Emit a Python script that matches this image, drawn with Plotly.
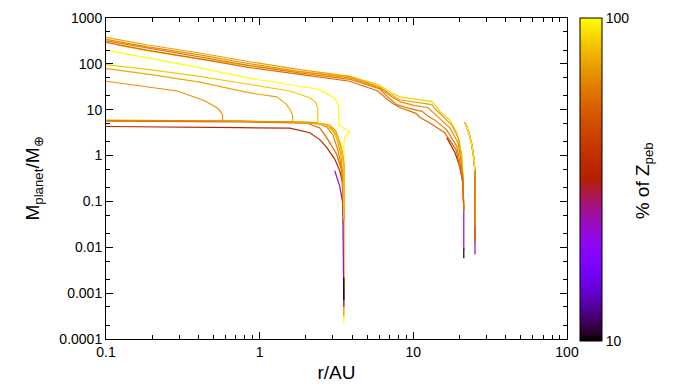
import math
import plotly.graph_objects as go

# ---------------------------------------------------------------------------
# Planet formation tracks: orbital distance r [AU], planet mass [M_earth],
# and the share of the pebble metallicity Z_peb [%] used in each run.
# Each run is drawn as one line in its own colour.
# ---------------------------------------------------------------------------

# runs seeded at ~3.5 AU
r_in_hook = [3.53, 3.53, 3.58, 3.86, 3.27, 3.27, 3.13, 2.86, 2.35, 1.41, 0.861, 0.407, 0.192, 0.1]
m_in_hook = [0.00023, 1.75, 2.58, 3.30, 4.64, 12.3, 16.5, 21.1, 28.3, 37.9, 48.4, 82.8, 135, 199.5]
z_in_hook = 100

r_in_flat_a = [3.53, 3.53, 3.47, 3.32, 3.13, 2.86, 2.12, 0.741, 0.1]
m_in_flat_a = [0.00031, 0.66, 1.07, 1.93, 3.46, 4.64, 5.37, 5.64, 5.93]
z_in_flat_a = 70

r_in_stall = [3.53, 3.47, 3.32, 3.08]
m_in_stall = [0.0005, 0.093, 0.214, 0.467]
z_in_stall = 22

r_in_seed = [3.53, 3.53]
m_in_seed = [0.0007, 0.00217]
z_in_seed = 10

r_in_low = [3.53, 3.47, 3.32, 3.08, 2.73, 2.46, 2.12, 1.57, 0.741, 0.1]
m_in_low = [0.041, 0.248, 0.467, 0.84, 1.51, 2.23, 3.14, 3.95, 4.07, 4.31]
z_in_low = 33

r_in_flat_b = [3.53, 3.47, 3.42, 3.17, 2.73, 2.46, 2.02, 0.741, 0.1]
m_in_flat_b = [0.041, 0.248, 0.467, 1.07, 2.46, 4.01, 5.12, 5.45, 5.64]
z_in_flat_b = 56

r_in_flat_c = [3.53, 3.53, 3.42, 3.22, 2.99, 2.73, 2.35, 0.741, 0.1]
m_in_flat_c = [0.041, 0.194, 0.515, 1.37, 2.85, 4.21, 5.12, 5.64, 5.78]
z_in_flat_c = 63

r_in_gas_057 = [3.53, 3.47, 3.37, 3.17, 2.95, 2.65, 1.82, 0.741, 0.574, 0.574, 0.557, 0.525, 0.438, 0.292, 0.1]
m_in_gas_057 = [0.041, 0.40, 1.07, 2.46, 3.82, 4.87, 5.37, 5.56, 5.64, 7.56, 9.19, 11.2, 15.7, 25.6, 41.8]
z_in_gas_057 = 68

r_in_gas_164 = [3.53, 3.53, 3.42, 3.22, 2.99, 2.65, 2.12, 1.64, 1.64, 1.59, 1.48, 1.29, 0.861, 0.407, 0.192, 0.1]
m_in_gas_164 = [0.041, 0.66, 1.37, 2.58, 3.82, 4.64, 5.12, 5.37, 7.56, 9.65, 13.6, 19.1, 23.3, 39.8, 58.8, 78.9]
z_in_gas_164 = 74

r_in_gas_239 = [3.53, 3.53, 3.42, 3.22, 2.99, 2.69, 2.39, 2.39, 2.32, 2.12, 1.57, 0.861, 0.407, 0.192, 0.1]
m_in_gas_239 = [0.041, 0.515, 1.18, 2.23, 3.46, 4.64, 5.12, 10.6, 14.3, 18.2, 25.6, 36.1, 53.4, 75.1, 95.9]
z_in_gas_239 = 84

# runs seeded at ~21 AU
r_out_seed = [21.3, 21.3]
m_out_seed = [0.0058, 0.00985]
z_out_seed = 10

r_out_slow = [21.3, 21.3]
m_out_slow = [0.0089, 0.063]
z_out_slow = 23

r_out_stall = [21.3, 21.0, 20.1, 18.6, 16.5]
m_out_stall = [0.0695, 0.248, 0.57, 1.18, 2.46]
z_out_stall = 32

r_out_1 = [21.3, 21.0, 20.7, 19.2, 17.3, 14.9, 14.2, 13.2, 11.0, 8.17, 7.03, 6.05, 3.86, 1.82, 0.861, 0.407, 0.192, 0.119]
m_out_1 = [0.063, 0.316, 1.07, 3.14, 5.93, 9.19, 11.7, 15.0, 16.5, 19.1, 24.4, 34.4, 53.4, 68.1, 91.3, 128.5, 190, 254.7]
z_out_1 = 86

r_out_2 = [21.3, 21.0, 20.4, 19.8, 17.8, 15.3, 14.0, 13.2, 11.0, 8.17, 7.03, 6.05, 3.86, 1.82, 0.861, 0.407, 0.192, 0.1]
m_out_2 = [0.063, 0.40, 1.07, 2.23, 4.64, 7.56, 10.1, 12.9, 14.3, 16.5, 22.2, 31.2, 53.4, 75.1, 111, 172.3, 254.7, 376.5]
z_out_2 = 72

r_out_3 = [21.3, 21.0, 20.1, 19.5, 17.3, 14.4, 13.2, 12.4, 10.2, 8.17, 7.24, 6.05, 3.86, 1.82, 0.861, 0.407, 0.192, 0.1]
m_out_3 = [0.063, 0.366, 1.07, 1.93, 4.01, 6.86, 9.19, 11.2, 12.3, 15.0, 19.1, 29.7, 49.6, 68.1, 100.7, 156.3, 231, 341.5]
z_out_3 = 66

r_out_4 = [21.3, 21.0, 19.2, 16.5, 13.8, 12.25, 11.4, 9.49, 7.81, 7.03, 6.05, 3.86, 1.82, 0.861, 0.407, 0.192, 0.1]
m_out_4 = [0.063, 0.316, 1.58, 3.64, 5.93, 7.56, 9.19, 10.6, 12.9, 17.35, 28.3, 46.1, 63.3, 91.3, 141.8, 214.7, 317.3]
z_out_4 = 61

r_out_5 = [21.3, 21.0, 18.9, 16.0, 12.8, 11.0, 10.4, 8.17, 7.35, 6.82, 5.87, 3.86, 1.82, 0.861, 0.407, 0.192, 0.1]
m_out_5 = [0.063, 0.273, 1.37, 3.14, 5.12, 6.86, 8.34, 11.2, 13.6, 16.5, 25.6, 41.8, 58.8, 82.8, 128.5, 194.7, 295]
z_out_5 = 56

# runs seeded at ~25 AU (all end near 21.7 AU)
r_far_a = [25.2, 25.2, 24.8, 24.0, 23.0, 21.65]
m_far_a = [0.0070, 0.40, 0.84, 1.75, 3.14, 5.37]
z_far_a = 22

r_far_b = [25.2, 25.2, 24.8, 24.0, 23.0, 21.65]
m_far_b = [0.0126, 0.40, 0.84, 1.75, 3.14, 5.37]
z_far_b = 45

r_far_c = [25.2, 25.2, 24.8, 24.0, 23.0, 21.65]
m_far_c = [0.0132, 0.40, 0.84, 1.75, 3.14, 5.37]
z_far_c = 58

r_far_d = [25.2, 25.2, 24.8, 24.0, 23.0, 21.65]
m_far_d = [0.030, 0.40, 0.84, 1.75, 3.14, 5.37]
z_far_d = 70

r_far_e = [25.1, 24.8, 24.0, 23.0, 21.65]
m_far_e = [0.467, 0.84, 1.75, 3.14, 5.37]
z_far_e = 95

# axis ticks
x_ticks = [0.1, 1, 10, 100]
x_tick_text = ["0.1", "1", "10", "100"]
y_ticks = [1e-4, 1e-3, 1e-2, 1e-1, 1, 10, 100, 1000]
y_tick_text = ["0.0001", "0.001", "0.01", "0.1", "1", "10", "100", "1000"]
z_label_ticks = [10, 100]
z_label_text = ["10", "100"]
z_minor_ticks = [20, 30, 40, 50, 60, 70, 80, 90]

tracks = [
    (r_in_hook, m_in_hook, z_in_hook),
    (r_in_flat_a, m_in_flat_a, z_in_flat_a),
    (r_in_stall, m_in_stall, z_in_stall),
    (r_in_seed, m_in_seed, z_in_seed),
    (r_in_low, m_in_low, z_in_low),
    (r_in_flat_b, m_in_flat_b, z_in_flat_b),
    (r_in_flat_c, m_in_flat_c, z_in_flat_c),
    (r_in_gas_057, m_in_gas_057, z_in_gas_057),
    (r_in_gas_164, m_in_gas_164, z_in_gas_164),
    (r_in_gas_239, m_in_gas_239, z_in_gas_239),
    (r_out_seed, m_out_seed, z_out_seed),
    (r_out_slow, m_out_slow, z_out_slow),
    (r_out_stall, m_out_stall, z_out_stall),
    (r_out_1, m_out_1, z_out_1),
    (r_out_2, m_out_2, z_out_2),
    (r_out_3, m_out_3, z_out_3),
    (r_out_4, m_out_4, z_out_4),
    (r_out_5, m_out_5, z_out_5),
    (r_far_a, m_far_a, z_far_a),
    (r_far_b, m_far_b, z_far_b),
    (r_far_c, m_far_c, z_far_c),
    (r_far_d, m_far_d, z_far_d),
    (r_far_e, m_far_e, z_far_e),
]


def gnuplot_rgb(f):
    """Classic gnuplot palette (rgbformulae 7,5,15)."""
    f = min(max(f, 0.0), 1.0)
    r = math.sqrt(f)
    g = f ** 3
    b = min(max(math.sin(2 * math.pi * f), 0.0), 1.0)
    return "rgb(%d,%d,%d)" % (round(255 * r), round(255 * g), round(255 * b))


def z_color(z):
    # colour axis is logarithmic from 10 % to 100 %
    return gnuplot_rgb(math.log10(z) - 1.0)


colorscale = [[i / 40, gnuplot_rgb(i / 40)] for i in range(41)]

font_family = "Liberation Sans, Arial, Helvetica, sans-serif"

fig = go.Figure()
for r, m, z in tracks:
    fig.add_trace(go.Scatter(
        x=r, y=m, mode="lines",
        line=dict(color=z_color(z), width=1.2),
        hoverinfo="skip", showlegend=False,
    ))

# colour bar geometry (paper units; plot area spans 0..1)
cb_x0 = 1.028
cb_thick_px = 22
cb_bottom = -0.006
cb_top = 1.0

fig.add_trace(go.Scatter(
    x=[None, None], y=[None, None], mode="markers", showlegend=False,
    hoverinfo="skip",
    marker=dict(
        color=[1, 2], cmin=1, cmax=2, colorscale=colorscale, showscale=True,
        colorbar=dict(
            thickness=cb_thick_px, thicknessmode="pixels",
            len=cb_top - cb_bottom, lenmode="fraction",
            x=cb_x0, xanchor="left", y=cb_bottom, yanchor="bottom",
            xpad=0, ypad=0,
            outlinewidth=1, outlinecolor="black",
            tickmode="array",
            tickvals=[math.log10(v) for v in z_label_ticks],
            ticktext=z_label_text,
            ticks="inside", ticklen=4, tickcolor="black", tickwidth=1,
            tickfont=dict(family=font_family, size=14, color="black"),
        ),
    ),
))

# intermediate (unlabelled) colour-bar ticks on the bar's right edge
plot_w_px = 680 - 106 - 113
cb_right = cb_x0 + cb_thick_px / plot_w_px
tick_w = 4 / plot_w_px
for v in z_minor_ticks:
    yv = cb_bottom + (math.log10(v) - 1.0) * (cb_top - cb_bottom)
    fig.add_shape(type="line", xref="paper", yref="paper",
                  x0=cb_right - tick_w, x1=cb_right, y0=yv, y1=yv,
                  line=dict(color="black", width=1))

# colour-bar title
fig.add_annotation(
    text="% of Z<sub>peb</sub>", xref="paper", yref="paper",
    x=1.169, y=0.494, xanchor="center", yanchor="middle",
    textangle=-90, showarrow=False,
    font=dict(family=font_family, size=19, color="black"),
)

x_minor = [k * 10.0 ** e for e in (-1, 0, 1) for k in range(2, 10)]
y_minor = [k * 10.0 ** e for e in range(-4, 3) for k in (2, 5)]

axis_common = dict(
    type="log", showgrid=False, zeroline=False,
    showline=True, linecolor="black", linewidth=1, mirror="allticks",
    ticks="inside", ticklen=7, tickcolor="black", tickwidth=1,
    tickfont=dict(family=font_family, size=14, color="black"),
)

fig.update_layout(
    width=680, height=389,
    margin=dict(l=106, r=113, t=10, b=49),
    paper_bgcolor="white", plot_bgcolor="white",
    hovermode=False,
    font=dict(family=font_family, color="black"),
    xaxis=dict(
        range=[-1, 2], tickmode="array", tickvals=x_ticks, ticktext=x_tick_text,
        minor=dict(tickmode="array", tickvals=x_minor, ticks="inside",
                   ticklen=4, tickcolor="black", showgrid=False),
        title=dict(text="r/AU", font=dict(family=font_family, size=19), standoff=6),
        **axis_common,
    ),
    yaxis=dict(
        range=[-4, 3], tickmode="array", tickvals=y_ticks, ticktext=y_tick_text,
        minor=dict(tickmode="array", tickvals=y_minor, ticks="inside",
                   ticklen=4, tickcolor="black", showgrid=False),
        title=dict(text="M<sub>planet</sub>/M<sub>⊕</sub>",
                   font=dict(family=font_family, size=19), standoff=14),
        **axis_common,
    ),
)

fig.write_html("out.html")
